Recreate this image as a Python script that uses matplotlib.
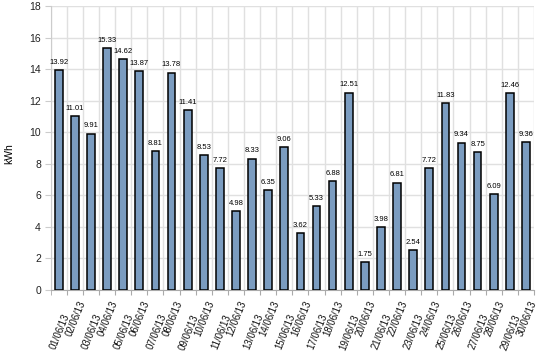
import matplotlib
matplotlib.use('Agg')
import matplotlib.pyplot as plt
import numpy as np

plt.rcParams['font.family'] = ['Liberation Sans', 'DejaVu Sans']

days = ["%02d/06/13" % d for d in range(1, 31)]
kwh = [13.92, 11.01, 9.91, 15.33, 14.62, 13.87, 8.81, 13.78, 11.41, 8.53,
       7.72, 4.98, 8.33, 6.35, 9.06, 3.62, 5.33, 6.88, 12.51, 1.75,
       3.98, 6.81, 2.54, 7.72, 11.83, 9.34, 8.75, 6.09, 12.46, 9.36]

fig = plt.figure(figsize=(5.47, 3.62), dpi=100)
ax = fig.add_axes([50.7 / 547, 1 - 290 / 362, (534 - 50.7) / 547, (290 - 6) / 362])

x = np.arange(len(days))
ax.bar(x, kwh, width=0.48, color='#7b9cc0', edgecolor='black', linewidth=1.1, zorder=3)

for xi, v in zip(x, kwh):
    ax.annotate("%.2f" % v, (xi, v), xytext=(0, 3), textcoords='offset points',
                ha='center', va='bottom', fontsize=5.5, color='black')

ax.set_xlim(-0.5, len(days) - 0.5)
ax.set_ylim(0, 18)
ax.set_yticks(np.arange(0, 19, 2))
# labels sit on the category boundaries, like the original tool does
ax.set_xticks(x + 0.5)
ax.set_xticklabels(days, rotation=68, rotation_mode='anchor', ha='right', va='center',
                   fontsize=6.9, color='#111111')
ax.set_xticks([-0.5], minor=True)

ax.tick_params(axis='x', which='both', length=3.5, color='#aaaaaa')
ax.tick_params(axis='y', length=4, color='#cccccc', labelsize=7.5, labelcolor='#222222', pad=3)
for i, t in enumerate(ax.xaxis.get_major_ticks()):
    t.set_pad(14.2 if i % 2 == 0 else 4.7)

ax.grid(True, axis='y', color='#e0e0e0', linewidth=1, zorder=0)
ax.grid(True, axis='x', which='both', color='#e0e0e0', linewidth=1, zorder=0)

for s in ['top', 'right']:
    ax.spines[s].set_visible(False)
ax.spines['left'].set_color('#cccccc')
ax.spines['bottom'].set_color('#aaaaaa')

ax.set_ylabel('kWh', fontsize=7.5)
ax.yaxis.set_label_coords(-0.076, 0.48)

fig.savefig('out.png', dpi=100)
